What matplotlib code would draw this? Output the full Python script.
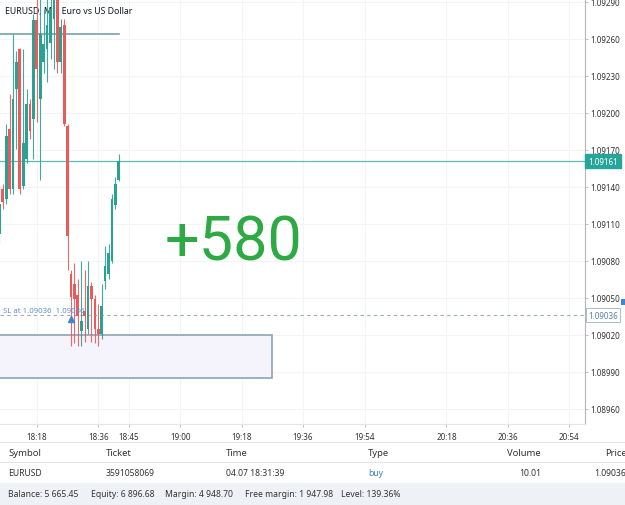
#!/usr/bin/env python
# -*- coding: UTF-8 -*-


r'''
EURUSD M1 chart with an open buy position and the terminal table below it

python plot.py
'''


OUT_FILE = 'out.png'

# M1 candles, time in minutes after 18:00
MINUTES = [7, 8, 9, 10, 11, 12, 13, 14, 15, 16, 17, 18, 19, 20, 21, 22, 23, 24,
	25, 26, 27, 28, 29, 30, 31, 32, 33, 34, 35, 36, 37, 38, 39, 40, 41, 42]
OPENS = [1.09102, 1.09138, 1.09130, 1.09187, 1.09138, 1.09219, 1.09252, 1.09141, 1.09163,
	1.09207, 1.09195, 1.09275, 1.09211, 1.09241, 1.09252, 1.09257, 1.09276, 1.09297,
	1.09241, 1.09271, 1.09189, 1.09069, 1.09061, 1.09052, 1.09023, 1.09039, 1.09025,
	1.09060, 1.09049, 1.09025, 1.09021, 1.09064, 1.09069, 1.09080, 1.09125, 1.09146]
HIGHS = [1.09130, 1.09142, 1.09191, 1.09215, 1.09264, 1.09250, 1.09253, 1.09252, 1.09219,
	1.09211, 1.09280, 1.09292, 1.09297, 1.09284, 1.09297, 1.09297, 1.09305, 1.09305,
	1.09276, 1.09276, 1.09191, 1.09073, 1.09078, 1.09065, 1.09080, 1.09073, 1.09080,
	1.09063, 1.09052, 1.09045, 1.09061, 1.09092, 1.09094, 1.09134, 1.09148, 1.09167]
LOWS = [1.09094, 1.09122, 1.09126, 1.09134, 1.09134, 1.09171, 1.09134, 1.09138, 1.09159,
	1.09179, 1.09163, 1.09193, 1.09146, 1.09232, 1.09225, 1.09244, 1.09236, 1.09232,
	1.09232, 1.09189, 1.09073, 1.09011, 1.09013, 1.09011, 1.09011, 1.09014, 1.09021,
	1.09014, 1.09013, 1.09011, 1.09017, 1.09057, 1.09065, 1.09078, 1.09122, 1.09145]
CLOSES = [1.09126, 1.09128, 1.09181, 1.09138, 1.09211, 1.09241, 1.09138, 1.09176, 1.09207,
	1.09185, 1.09275, 1.09236, 1.09264, 1.09256, 1.09271, 1.09284, 1.09297, 1.09241,
	1.09270, 1.09191, 1.09100, 1.09051, 1.09049, 1.09035, 1.09031, 1.09035, 1.09060,
	1.09049, 1.09025, 1.09021, 1.09043, 1.09076, 1.09086, 1.09130, 1.09142, 1.09161]

PRICE_TICKS = [1.08960, 1.08990, 1.09020, 1.09050, 1.09080, 1.09110, 1.09140,
	1.09170, 1.09200, 1.09230, 1.09260, 1.09290]
TIME_TICKS = [18, 36, 45, 60, 78, 96, 114, 138, 156, 174]
TIME_LABELS = ['18:18', '18:36', '18:45', '19:00', '19:18', '19:36', '19:54',
	'20:18', '20:36', '20:54']

SYMBOL_TITLE = 'EURUSD, M1: Euro vs US Dollar'
LAST_PRICE = 1.09161
ENTRY_PRICE = 1.09036
ENTRY_MINUTE = 28
SL_LABEL = 'SL at 1.09036  1.09036'
LEVEL_PRICE = 1.09264
LEVEL_SPAN = [7, 42]
BOX_PRICES = [1.08985, 1.09020]
BOX_SPAN = [7, 87]
PROFIT_LABEL = '+580'
PROFIT_AT = [75.5, 1.09095]

TABLE_HEADER = ['Symbol', 'Ticket', 'Time', 'Type', 'Volume', 'Price']
TABLE_ROW = ['EURUSD', '3591058069', '04.07 18:31:39', 'buy', '10.01', '1.09036']
ACCOUNT = ['Balance: 5 665.45', 'Equity: 6 896.68', 'Margin: 4 948.70',
	'Free margin: 1 947.98', 'Level: 139.36%']


import numpy as np
import matplotlib
matplotlib.use('Agg')
import matplotlib.pyplot as plt
import matplotlib.transforms as mtransforms
from matplotlib.patches import Rectangle
from matplotlib.lines import Line2D


W, H = 625, 506
UP, DOWN = '#2ba193', '#e85a5c'


def fx(x):
	return x/W


def fy(y):
	return 1 - y/H


def plot_candles(ax):
	'''
	Parameters
	ax: Axes for the price chart
	'''

	t = np.array(MINUTES, dtype = float)
	o, h, l, c = (np.array(v) for v in (OPENS, HIGHS, LOWS, CLOSES))
	colors = np.where(c >= o, UP, DOWN)

	ax.vlines(t, l, h, colors = colors, lw = 0.8, alpha = 0.9, zorder = 3)
	bottoms = np.minimum(o, c)
	heights = np.maximum(np.abs(c - o), 0.000005)
	ax.bar(t, heights, bottom = bottoms, width = 0.8, color = colors, lw = 0, zorder = 4)


def plot_overlays(ax, fig):
	'''
	Parameters
	ax: Axes for the price chart
	fig: Figure
	'''

	# position box
	ax.add_patch(Rectangle((BOX_SPAN[0], BOX_PRICES[0]), BOX_SPAN[1] - BOX_SPAN[0],
		BOX_PRICES[1] - BOX_PRICES[0], fc = '#f5f3fb', ec = '#8aa3b6', lw = 1.2, zorder = 2))

	# drawn level at the top
	ax.plot(LEVEL_SPAN, [LEVEL_PRICE, LEVEL_PRICE], color = '#76a3a8', lw = 1.2, zorder = 2)

	# last price and entry price lines
	ax.axhline(LAST_PRICE, color = '#26a69a', lw = 0.9, alpha = 0.75, zorder = 2)
	ax.axhline(ENTRY_PRICE, color = '#a3a8b5', lw = 0.8, dashes = (3, 3), zorder = 2)

	ax.annotate('%.5f' % LAST_PRICE, xy = (1, LAST_PRICE), xycoords = ('axes fraction', 'data'),
		xytext = (2.2, 0), textcoords = 'offset points', ha = 'left', va = 'center',
		fontsize = 5.8, color = 'white', annotation_clip = False, zorder = 6,
		bbox = dict(boxstyle = 'square,pad=0.35', fc = '#26a69a', ec = '#26a69a'))
	ax.annotate('%.5f' % ENTRY_PRICE, xy = (1, ENTRY_PRICE), xycoords = ('axes fraction', 'data'),
		xytext = (2.2, 0), textcoords = 'offset points', ha = 'left', va = 'center',
		fontsize = 5.8, color = '#5a7fa8', annotation_clip = False, zorder = 6,
		bbox = dict(boxstyle = 'square,pad=0.3', fc = 'white', ec = '#a9bccd', lw = 0.7))

	# buy marker and SL label
	below = mtransforms.offset_copy(ax.transData, fig = fig, x = 0, y = -4, units = 'dots')
	ax.plot(ENTRY_MINUTE, ENTRY_PRICE, marker = '^', ms = 4.5, color = '#3d85d8',
		transform = below, zorder = 5)
	above = mtransforms.offset_copy(ax.transData, fig = fig, x = 0, y = 1, units = 'dots')
	ax.text(8.1, ENTRY_PRICE, SL_LABEL, transform = above, ha = 'left', va = 'bottom',
		fontsize = 5.6, color = '#5c8fd6', zorder = 5)

	ax.text(PROFIT_AT[0], PROFIT_AT[1], PROFIT_LABEL, ha = 'center', va = 'center',
		fontsize = 44, color = '#2eaa45', family = 'Roboto', zorder = 5)

	ax.text(5/585, 1 - 12/425, SYMBOL_TITLE, transform = ax.transAxes, ha = 'left',
		va = 'center', fontsize = 6.3, color = '#131722', zorder = 1)


def plot_table(fig):
	'''
	Parameters
	fig: Figure
	'''

	fig.add_artist(Line2D([0, 1], [fy(443), fy(443)], color = '#e3e6ec', lw = 0.8))
	fig.add_artist(Line2D([0, 1], [fy(463), fy(463)], color = '#e3e6ec', lw = 0.8))
	fig.add_artist(Rectangle((0, 0), 1, fy(484), fc = '#eef2f7', ec = 'none'))

	lefts = [8, 106, 226, 368]
	for i, x in enumerate(lefts):
		fig.text(fx(x), fy(453), TABLE_HEADER[i], ha = 'left', va = 'center',
			fontsize = 6.8, color = '#333333')
		fig.text(fx(x), fy(474), TABLE_ROW[i], ha = 'left', va = 'center', fontsize = 6.2,
			color = '#3d7fc4' if TABLE_ROW[i] == 'buy' else '#333333')

	fig.text(fx(541), fy(453), TABLE_HEADER[4], ha = 'right', va = 'center', fontsize = 6.8, color = '#333333')
	fig.text(fx(541), fy(474), TABLE_ROW[4], ha = 'right', va = 'center', fontsize = 6.2, color = '#333333')
	fig.text(fx(605), fy(453), TABLE_HEADER[5], ha = 'left', va = 'center', fontsize = 6.8, color = '#333333')
	fig.text(fx(594), fy(474), TABLE_ROW[5], ha = 'left', va = 'center', fontsize = 6.2, color = '#333333')

	xs = [8, 91, 165, 245, 341]
	for x, s in zip(xs, ACCOUNT):
		fig.text(fx(x), fy(495), s, ha = 'left', va = 'center', fontsize = 6.2, color = '#333333')

	# small blue handle at the right edge
	fig.add_artist(Rectangle((fx(621), fy(306)), fx(4), 6/H, fc = '#3d85d8', ec = 'none'))


if __name__ == '__main__':

	plt.rcParams['font.family'] = ['Noto Sans', 'DejaVu Sans']

	fig = plt.figure(figsize = (W/100, H/100), dpi = 100)
	ax = fig.add_axes([0, fy(425), fx(585), 425/H])

	plot_candles(ax)
	plot_overlays(ax, fig)
	plot_table(fig)

	ax.set_xlim(7.2, 178.6)
	ax.set_ylim(1.089477, 1.092924)

	ax.yaxis.tick_right()
	ax.set_yticks(PRICE_TICKS)
	ax.set_yticklabels(['%.5f' % p for p in PRICE_TICKS])
	ax.set_xticks(TIME_TICKS)
	ax.set_xticklabels(TIME_LABELS)
	for lab in ax.get_xticklabels():
		if lab.get_text() == '19:00':
			lab.set_fontweight('bold')
			lab.set_fontsize(6.6)

	ax.tick_params(axis = 'y', length = 2.5, width = 0.6, pad = 1.5, labelsize = 5.8,
		colors = '#b2b5be', labelcolor = '#333333')
	ax.tick_params(axis = 'x', length = 2.5, width = 0.6, pad = 3, labelsize = 5.8,
		colors = '#b2b5be', labelcolor = '#333333')
	ax.grid(True, color = '#f3f4f7', lw = 0.8, zorder = 0)
	ax.set_axisbelow(True)

	for side in ['top', 'left']:
		ax.spines[side].set_visible(False)
	ax.spines['right'].set_color('#b2b5be')
	ax.spines['bottom'].set_color('#e3e6ec')

	fig.savefig(OUT_FILE, dpi = 100)
